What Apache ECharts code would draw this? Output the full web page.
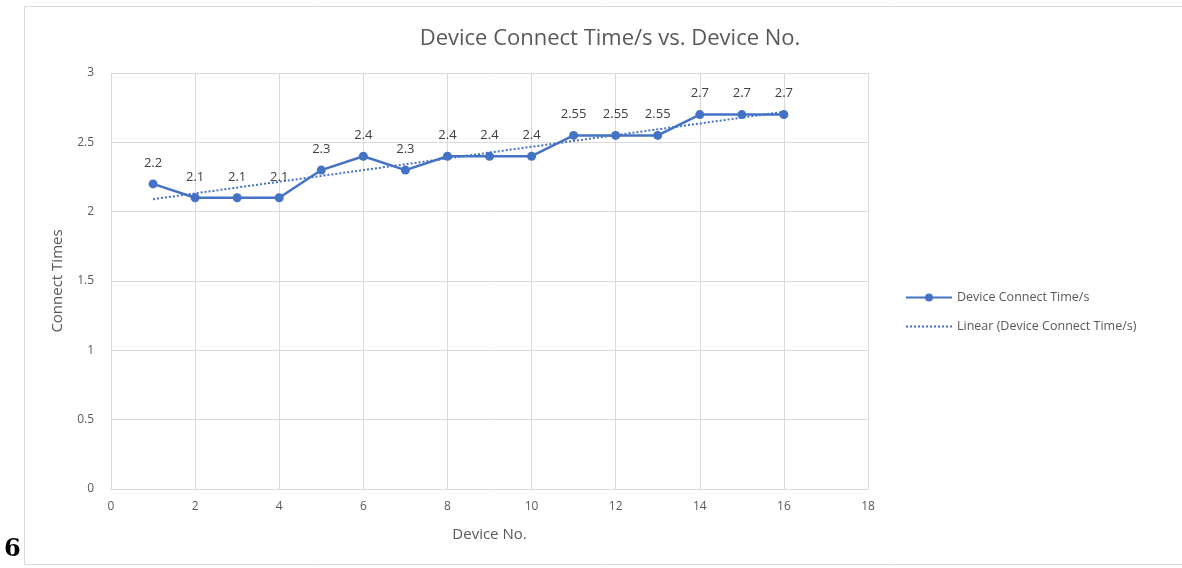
<!DOCTYPE html>
<html>
<head>
<meta charset="utf-8">
<script src="https://cdn.jsdelivr.net/npm/echarts@6/dist/echarts.min.js"></script>
<style>
  html, body { margin: 0; padding: 0; background: #fff; }
  #chart { width: 1182px; height: 568px; }
</style>
</head>
<body>
<div id="chart"></div>
<script>
// Device numbers and measured connect times
const deviceNo = [1, 2, 3, 4, 5, 6, 7, 8, 9, 10, 11, 12, 13, 14, 15, 16];
const connectTime = [2.2, 2.1, 2.1, 2.1, 2.3, 2.4, 2.3, 2.4, 2.4, 2.4, 2.55, 2.55, 2.55, 2.7, 2.7, 2.7];
// Linear trendline end points (device no., time)
const trendX = [1, 16];
const trendY = [2.09, 2.72];

const seriesName = 'Device Connect Time/s';
const trendName = 'Linear (Device Connect Time/s)';
const blue = '#4472C4';
const textGray = '#595959';
const font = '"Open Sans", "Noto Sans", sans-serif';

const chart = echarts.init(document.getElementById('chart'), null, { renderer: 'canvas' });

chart.setOption({
  backgroundColor: '#ffffff',
  animation: false,
  textStyle: { fontFamily: font },
  title: {
    text: 'Device Connect Time/s vs. Device No.',
    left: 605,
    textAlign: 'center',
    top: 23,
    textStyle: { color: textGray, fontSize: 22, fontWeight: 'normal', fontFamily: font }
  },
  grid: { left: 111, right: 314, top: 73, bottom: 79, containLabel: false },
  xAxis: {
    type: 'value',
    min: 0, max: 18, interval: 2,
    name: 'Device No.',
    nameLocation: 'middle',
    nameGap: 38,
    nameTextStyle: { color: textGray, fontSize: 15, fontFamily: font },
    axisLine: { show: true, lineStyle: { color: '#d9d9d9', width: 1 } },
    axisTick: { show: false },
    axisLabel: { color: textGray, fontSize: 12, margin: 12, fontFamily: font },
    splitLine: { show: true, lineStyle: { color: '#d9d9d9', width: 1 } }
  },
  yAxis: {
    type: 'value',
    min: 0, max: 3, interval: 0.5,
    name: 'Connect Times',
    nameLocation: 'middle',
    nameGap: 46,
    nameRotate: 90,
    nameTextStyle: { color: textGray, fontSize: 15, fontFamily: font },
    axisLine: { show: false },
    axisTick: { show: false },
    axisLabel: { color: textGray, fontSize: 12, margin: 17, fontFamily: font },
    splitLine: { show: true, lineStyle: { color: '#d9d9d9', width: 1 } }
  },
  legend: {
    orient: 'vertical',
    left: 900,
    top: 286,
    itemWidth: 46,
    itemHeight: 10,
    itemGap: 16,
    textStyle: { color: textGray, fontSize: 12.5, fontFamily: font },
    data: [
      seriesName,
      { name: trendName, itemStyle: { opacity: 0 } }
    ]
  },
  series: [
    {
      name: trendName,
      type: 'line',
      data: trendX.map((x, i) => [x, trendY[i]]),
      symbol: 'none',
      lineStyle: { color: blue, width: 2, type: [2, 2] },
      itemStyle: { color: blue },
      z: 1
    },
    {
      name: seriesName,
      type: 'line',
      data: deviceNo.map((x, i) => [x, connectTime[i]]),
      symbol: 'circle',
      symbolSize: 9,
      lineStyle: { color: blue, width: 2.5 },
      itemStyle: { color: blue },
      label: {
        show: true,
        position: 'top',
        distance: 10,
        color: '#404040',
        fontSize: 13,
        fontFamily: font,
        formatter: p => String(p.value[1])
      },
      z: 3
    }
  ],
  graphic: [
    {
      type: 'rect',
      shape: { x: 24.5, y: 6.5, width: 1170, height: 558 },
      style: { fill: 'none', stroke: '#d9d9d9', lineWidth: 1 },
      silent: true
    },
    {
      type: 'text',
      left: 4,
      top: 538,
      style: {
        text: '6',
        fill: '#000000',
        font: 'bold 24px "DejaVu Serif", "Liberation Serif", serif'
      }
    }
  ]
});
</script>
</body>
</html>
